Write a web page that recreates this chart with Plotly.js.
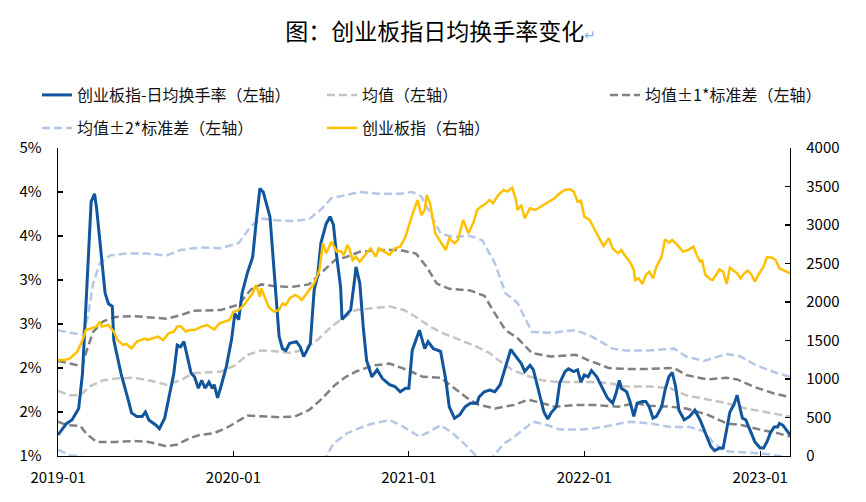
<!DOCTYPE html>
<html>
<head>
<meta charset="utf-8">
<script src="https://cdn.plot.ly/plotly-3.0.1.min.js"></script>
<style>html,body{margin:0;padding:0;background:#fff;}#chart{width:866px;height:502px;}</style>
</head>
<body>
<div id="chart"></div>
<script>
// ---- data (time given as decimal years) ----
var turnoverT = [2019.00,2019.05,2019.08,2019.12,2019.14,2019.16,2019.18,2019.19,2019.21,2019.22,2019.24,2019.26,2019.27,2019.29,2019.31,2019.32,2019.36,2019.40,2019.42,2019.45,2019.48,2019.50,2019.52,2019.56,2019.58,2019.61,2019.64,2019.66,2019.68,2019.70,2019.72,2019.74,2019.76,2019.78,2019.80,2019.82,2019.84,2019.86,2019.88,2019.89,2019.91,2019.93,2019.96,2019.99,2020.01,2020.03,2020.05,2020.08,2020.11,2020.13,2020.15,2020.17,2020.19,2020.21,2020.23,2020.25,2020.26,2020.28,2020.30,2020.32,2020.36,2020.38,2020.40,2020.42,2020.44,2020.46,2020.48,2020.50,2020.53,2020.55,2020.57,2020.59,2020.61,2020.62,2020.65,2020.67,2020.69,2020.70,2020.72,2020.74,2020.76,2020.79,2020.82,2020.85,2020.89,2020.92,2020.95,2020.98,2021.00,2021.02,2021.06,2021.09,2021.11,2021.14,2021.18,2021.21,2021.23,2021.26,2021.29,2021.32,2021.35,2021.39,2021.40,2021.43,2021.46,2021.49,2021.52,2021.54,2021.56,2021.58,2021.61,2021.64,2021.66,2021.69,2021.71,2021.74,2021.77,2021.79,2021.81,2021.84,2021.86,2021.89,2021.91,2021.94,2021.96,2021.98,2022.00,2022.02,2022.04,2022.07,2022.10,2022.13,2022.16,2022.18,2022.20,2022.21,2022.24,2022.26,2022.28,2022.30,2022.33,2022.35,2022.37,2022.39,2022.41,2022.44,2022.46,2022.48,2022.50,2022.52,2022.54,2022.57,2022.60,2022.63,2022.66,2022.69,2022.72,2022.74,2022.77,2022.79,2022.81,2022.83,2022.85,2022.87,2022.89,2022.90,2022.92,2022.94,2022.97,2023.00,2023.02,2023.04,2023.06,2023.08,2023.10,2023.11,2023.13,2023.15,2023.17];
var turnover = [1.24,1.37,1.41,1.54,1.94,2.70,3.45,3.89,3.98,3.83,3.45,3.08,2.85,2.73,2.70,2.32,1.94,1.64,1.49,1.45,1.45,1.50,1.41,1.35,1.31,1.43,1.75,1.94,2.26,2.24,2.30,2.09,1.94,1.90,1.77,1.86,1.77,1.84,1.77,1.81,1.66,1.79,2.01,2.32,2.62,2.55,2.85,3.08,3.26,3.64,4.04,4.00,3.87,3.72,3.15,2.70,2.36,2.22,2.20,2.28,2.30,2.24,2.13,2.20,2.28,2.89,3.04,3.42,3.64,3.72,3.63,3.26,2.92,2.55,2.62,2.66,3.00,3.15,2.96,2.47,2.09,1.90,1.98,1.88,1.81,1.79,1.73,1.77,1.77,2.20,2.43,2.22,2.30,2.22,2.19,1.86,1.56,1.43,1.47,1.56,1.60,1.60,1.67,1.73,1.75,1.73,1.81,1.94,2.09,2.21,2.13,2.05,1.96,2.03,1.98,1.75,1.50,1.42,1.49,1.56,1.83,1.96,1.99,1.96,1.98,1.84,1.92,1.90,1.97,1.90,1.77,1.66,1.60,1.71,1.86,1.77,1.73,1.62,1.45,1.60,1.62,1.62,1.56,1.43,1.45,1.56,1.75,1.90,1.95,1.79,1.52,1.41,1.45,1.52,1.41,1.26,1.11,1.06,1.09,1.09,1.30,1.50,1.58,1.69,1.52,1.43,1.41,1.30,1.16,1.09,1.09,1.16,1.26,1.33,1.33,1.37,1.35,1.30,1.24];

var cybT = [2019.00,2019.04,2019.07,2019.11,2019.14,2019.16,2019.19,2019.22,2019.24,2019.25,2019.29,2019.32,2019.34,2019.37,2019.39,2019.42,2019.45,2019.48,2019.50,2019.51,2019.54,2019.57,2019.60,2019.63,2019.66,2019.68,2019.70,2019.73,2019.75,2019.78,2019.82,2019.85,2019.88,2019.89,2019.92,2019.95,2019.98,2020.00,2020.03,2020.06,2020.08,2020.11,2020.13,2020.15,2020.16,2020.18,2020.20,2020.23,2020.26,2020.28,2020.30,2020.32,2020.35,2020.37,2020.39,2020.41,2020.44,2020.46,2020.49,2020.51,2020.53,2020.56,2020.59,2020.61,2020.63,2020.65,2020.66,2020.68,2020.70,2020.72,2020.75,2020.78,2020.81,2020.83,2020.86,2020.89,2020.92,2020.95,2020.98,2021.01,2021.02,2021.05,2021.07,2021.09,2021.10,2021.12,2021.15,2021.18,2021.21,2021.23,2021.26,2021.28,2021.31,2021.34,2021.37,2021.39,2021.41,2021.44,2021.46,2021.48,2021.51,2021.54,2021.56,2021.59,2021.61,2021.62,2021.64,2021.66,2021.69,2021.72,2021.75,2021.77,2021.80,2021.83,2021.86,2021.89,2021.92,2021.94,2021.96,2021.98,2022.00,2022.03,2022.06,2022.09,2022.11,2022.14,2022.16,2022.19,2022.21,2022.23,2022.26,2022.28,2022.29,2022.31,2022.33,2022.35,2022.37,2022.39,2022.41,2022.44,2022.46,2022.48,2022.50,2022.53,2022.54,2022.56,2022.59,2022.62,2022.64,2022.66,2022.67,2022.69,2022.72,2022.73,2022.75,2022.77,2022.79,2022.81,2022.83,2022.85,2022.87,2022.89,2022.91,2022.93,2022.95,2022.97,2022.99,2023.02,2023.04,2023.07,2023.09,2023.11,2023.13,2023.15,2023.17];
var cyb = [1247,1247,1268,1355,1506,1636,1658,1680,1744,1680,1701,1615,1506,1442,1455,1398,1485,1506,1528,1506,1528,1550,1506,1593,1615,1680,1688,1615,1636,1636,1680,1701,1658,1645,1723,1744,1766,1874,1896,1961,2026,2113,2221,2069,2178,2069,1939,1874,1896,1983,1961,2048,2091,2069,2026,2091,2178,2243,2416,2762,2633,2783,2654,2665,2610,2740,2697,2545,2589,2524,2610,2697,2589,2697,2654,2610,2697,2719,2848,3087,3130,3325,3130,3195,3390,3282,2892,2783,2675,2827,2762,2805,3065,2892,3043,3195,3238,3282,3325,3282,3390,3455,3433,3485,3325,3195,3260,3087,3217,3195,3238,3260,3303,3347,3412,3455,3464,3433,3303,3316,3108,3065,2935,2805,2727,2827,2697,2632,2675,2610,2520,2416,2286,2308,2234,2351,2394,2308,2459,2589,2814,2770,2805,2740,2719,2654,2675,2719,2610,2524,2537,2351,2294,2286,2351,2424,2394,2234,2446,2407,2373,2308,2373,2407,2364,2264,2351,2459,2581,2576,2545,2438,2416,2394,2373];

var meanT = [2019.00,2019.07,2019.13,2019.18,2019.26,2019.33,2019.43,2019.52,2019.62,2019.70,2019.77,2019.93,2020.01,2020.08,2020.16,2020.24,2020.33,2020.41,2020.48,2020.56,2020.62,2020.70,2020.80,2020.89,2020.97,2021.04,2021.12,2021.20,2021.29,2021.39,2021.46,2021.51,2021.59,2021.66,2021.76,2021.85,2021.95,2022.04,2022.14,2022.23,2022.37,2022.49,2022.58,2022.70,2022.81,2022.92,2023.02,2023.11,2023.17];
var meanV = [1.74,1.69,1.69,1.79,1.86,1.88,1.89,1.86,1.81,1.86,1.94,1.96,2.03,2.15,2.20,2.19,2.17,2.22,2.32,2.47,2.56,2.66,2.68,2.70,2.66,2.58,2.47,2.39,2.32,2.24,2.17,2.09,1.98,1.92,1.86,1.84,1.84,1.84,1.83,1.79,1.79,1.77,1.69,1.64,1.60,1.54,1.50,1.47,1.45];

var up1T = [2019.00,2019.07,2019.14,2019.16,2019.20,2019.26,2019.33,2019.43,2019.52,2019.62,2019.70,2019.77,2019.93,2020.03,2020.10,2020.16,2020.24,2020.33,2020.43,2020.50,2020.58,2020.64,2020.72,2020.83,2020.95,2021.04,2021.10,2021.16,2021.23,2021.35,2021.43,2021.49,2021.55,2021.62,2021.70,2021.81,2021.95,2022.02,2022.14,2022.23,2022.37,2022.51,2022.58,2022.70,2022.81,2022.87,2022.96,2023.08,2023.17];
var up1V = [2.08,2.05,2.02,2.17,2.41,2.53,2.58,2.59,2.58,2.56,2.60,2.65,2.66,2.72,2.89,2.95,2.93,2.92,2.95,3.08,3.23,3.26,3.32,3.34,3.34,3.30,3.15,2.96,2.90,2.88,2.82,2.62,2.43,2.34,2.17,2.13,2.15,2.09,2.00,1.99,1.99,2.00,1.92,1.87,1.89,1.87,1.79,1.71,1.67];

var dn1T = [2019.00,2019.05,2019.13,2019.16,2019.22,2019.33,2019.43,2019.52,2019.62,2019.68,2019.75,2019.81,2019.89,2019.97,2020.08,2020.16,2020.27,2020.35,2020.43,2020.50,2020.58,2020.64,2020.70,2020.80,2020.89,2020.99,2021.08,2021.18,2021.25,2021.33,2021.40,2021.49,2021.60,2021.68,2021.76,2021.83,2021.95,2022.06,2022.19,2022.29,2022.37,2022.49,2022.58,2022.70,2022.81,2022.90,2023.00,2023.10,2023.17];
var dn1V = [1.39,1.35,1.34,1.26,1.16,1.16,1.17,1.16,1.11,1.13,1.20,1.24,1.26,1.33,1.46,1.45,1.44,1.45,1.52,1.64,1.81,1.90,1.96,2.03,2.05,1.98,1.90,1.89,1.79,1.66,1.58,1.54,1.58,1.64,1.60,1.56,1.58,1.58,1.56,1.60,1.57,1.56,1.54,1.47,1.37,1.35,1.30,1.26,1.22];

var up2T = [2019.00,2019.07,2019.14,2019.17,2019.20,2019.24,2019.30,2019.39,2019.51,2019.62,2019.70,2019.81,2019.93,2020.03,2020.10,2020.16,2020.24,2020.33,2020.43,2020.50,2020.56,2020.64,2020.72,2020.83,2020.95,2021.02,2021.07,2021.12,2021.18,2021.25,2021.35,2021.42,2021.49,2021.55,2021.62,2021.70,2021.81,2021.95,2022.04,2022.16,2022.23,2022.37,2022.51,2022.58,2022.68,2022.81,2022.89,2022.98,2023.10,2023.17];
var up2V = [2.43,2.40,2.38,2.58,2.96,3.19,3.28,3.30,3.30,3.28,3.34,3.37,3.36,3.42,3.61,3.70,3.68,3.67,3.69,3.80,3.93,3.97,4.00,3.98,3.98,4.00,3.95,3.76,3.53,3.49,3.50,3.45,3.19,2.85,2.74,2.41,2.40,2.43,2.36,2.22,2.20,2.20,2.22,2.13,2.08,2.16,2.13,2.03,1.94,1.90];

var dn2T = [2019.00,2019.07,2019.14,2019.30,2019.60,2019.90,2020.20,2020.45,2020.53,2020.57,2020.65,2020.76,2020.89,2020.97,2021.06,2021.12,2021.18,2021.25,2021.33,2021.39,2021.43,2021.48,2021.54,2021.59,2021.67,2021.71,2021.79,2021.86,2021.97,2022.04,2022.16,2022.25,2022.37,2022.49,2022.60,2022.68,2022.73,2022.79,2022.83,2022.90,2023.00,2023.08,2023.17];
var dn2V = [1.07,1.01,0.99,0.75,0.70,0.72,0.80,0.85,0.99,1.14,1.26,1.35,1.41,1.33,1.22,1.28,1.35,1.26,1.11,0.99,0.92,0.99,1.14,1.20,1.33,1.39,1.35,1.30,1.30,1.31,1.35,1.39,1.37,1.33,1.33,1.28,1.16,1.06,1.05,1.04,1.03,1.01,0.98];

var xTickYears = [2019, 2020, 2021, 2022, 2023];
var xTickText = ['2019-01', '2020-01', '2021-01', '2022-01', '2023-01'];
var yLeftTicks = [1, 1.5, 2, 2.5, 3, 3.5, 4, 4.5];
var yLeftText = ['1%', '2%', '2%', '3%', '3%', '4%', '4%', '5%'];

var names = {
  turnover: '创业板指-日均换手率（左轴）',
  mean: '均值（左轴）',
  sd1: '均值±1*标准差（左轴）',
  sd2: '均值±2*标准差（左轴）',
  cyb: '创业板指（右轴）'
};

// ---- helpers ----
function toDate(d) {
  var ms = Date.UTC(2019, 0, 1) + (d - 2019) * 365.25 * 86400000;
  return new Date(ms).toISOString().slice(0, 10);
}
function dates(arr) { return arr.map(toDate); }

var dashPat = '8px,4px';
var cBlue = '#11559C', cYellow = '#FFC000', cMean = '#C4C4C4', cSd1 = '#808080', cSd2 = '#B4C7E7';

var traces = [
  {x: dates(dn2T), y: dn2V, type: 'scatter', mode: 'lines', name: names.sd2, showlegend: false, legend: 'legend4',
   line: {color: cSd2, width: 2.5, dash: dashPat}},
  {x: dates(up2T), y: up2V, type: 'scatter', mode: 'lines', name: names.sd2, legend: 'legend4',
   line: {color: cSd2, width: 2.5, dash: dashPat}},
  {x: dates(dn1T), y: dn1V, type: 'scatter', mode: 'lines', name: names.sd1, showlegend: false, legend: 'legend3',
   line: {color: cSd1, width: 2.5, dash: dashPat}},
  {x: dates(up1T), y: up1V, type: 'scatter', mode: 'lines', name: names.sd1, legend: 'legend3',
   line: {color: cSd1, width: 2.5, dash: dashPat}},
  {x: dates(meanT), y: meanV, type: 'scatter', mode: 'lines', name: names.mean, legend: 'legend2',
   line: {color: cMean, width: 2.5, dash: dashPat}},
  {x: dates(turnoverT), y: turnover, type: 'scatter', mode: 'lines', name: names.turnover, legend: 'legend',
   line: {color: cBlue, width: 3}},
  {x: dates(cybT), y: cyb, type: 'scatter', mode: 'lines', name: names.cyb, legend: 'legend5', yaxis: 'y2',
   line: {color: cYellow, width: 2.5}}
];

var fontFam = '"Noto Sans CJK SC", "Noto Sans", sans-serif';
var legFont = {family: fontFam, size: 16, color: '#111'};
function leg(x, y) {
  return {x: x, y: y, xanchor: 'left', yanchor: 'middle', orientation: 'h',
          bgcolor: 'rgba(0,0,0,0)', borderwidth: 0, font: legFont};
}

var layout = {
  width: 866, height: 502,
  margin: {l: 58, r: 76, t: 148, b: 46, autoexpand: false},
  paper_bgcolor: '#fff', plot_bgcolor: '#fff',
  font: {family: fontFam, color: '#000'},
  title: {
    text: '图：创业板指日均换手率变化<span style="color:#7FB2E5;font-size:14px">↵</span>',
    font: {family: fontFam, size: 23, color: '#000'},
    x: 0.509, xref: 'container', xanchor: 'center',
    y: 1 - 32 / 502, yref: 'container', yanchor: 'middle'
  },
  xaxis: {
    type: 'date',
    range: [toDate(2019.0), toDate(2023.171)],
    tickmode: 'array', tickvals: xTickYears.map(toDate), ticktext: xTickText,
    ticks: 'inside', ticklen: 5, tickcolor: '#000', tickwidth: 1.2,
    showline: true, linecolor: '#000', linewidth: 1.3,
    showgrid: false, zeroline: false,
    tickfont: {family: fontFam, size: 15, color: '#000'},
    ticklabelstandoff: 8
  },
  yaxis: {
    range: [1, 4.5],
    tickmode: 'array', tickvals: yLeftTicks, ticktext: yLeftText,
    ticks: 'inside', ticklen: 5, tickcolor: '#000', tickwidth: 1.2,
    showline: true, linecolor: '#000', linewidth: 1.3,
    showgrid: false, zeroline: false,
    tickfont: {family: fontFam, size: 15, color: '#000'},
    ticklabelstandoff: 12
  },
  yaxis2: {
    overlaying: 'y', side: 'right',
    range: [0, 4000], tickmode: 'linear', tick0: 0, dtick: 500,
    ticks: 'inside', ticklen: 5, tickcolor: '#000', tickwidth: 1.2,
    showline: true, linecolor: '#000', linewidth: 1.3,
    showgrid: false, zeroline: false,
    tickfont: {family: fontFam, size: 15, color: '#000'},
    ticklabelstandoff: 12
  },
  legend: leg(-0.0287, 1.172),
  legend2: leg(0.3607, 1.172),
  legend3: leg(0.7473, 1.172),
  legend4: leg(-0.0287, 1.065),
  legend5: leg(0.3607, 1.065),
  showlegend: true
};

Plotly.newPlot('chart', traces, layout, {displayModeBar: false, staticPlot: true});
</script>
</body>
</html>
